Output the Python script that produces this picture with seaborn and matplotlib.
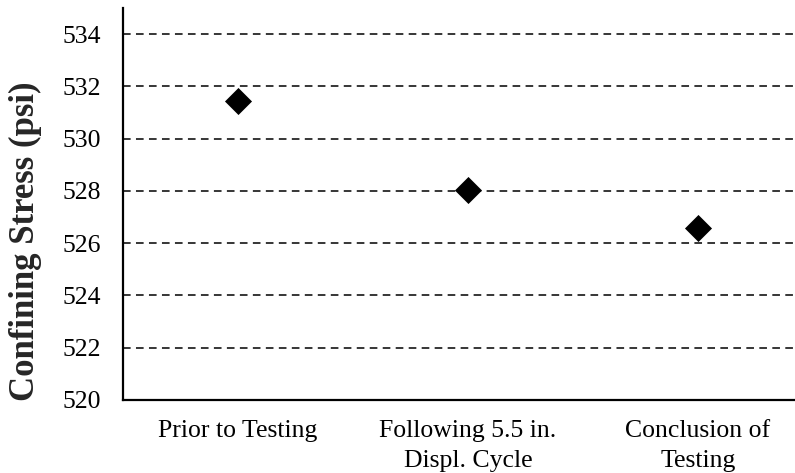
import matplotlib
matplotlib.use("Agg")
import matplotlib.pyplot as plt
import seaborn as sns
import pandas as pd

# data
stages = ["Prior to Testing", "Following 5.5 in.\nDispl. Cycle", "Conclusion of\nTesting"]
stress = [531.45, 528.05, 526.6]
yticks = [520, 522, 524, 526, 528, 530, 532, 534]

df = pd.DataFrame({"stage": stages, "stress": stress})

sns.set_style("white")
plt.rcParams["font.family"] = ["Liberation Serif", "DejaVu Serif"]

fig = plt.figure(figsize=(7.95, 4.73), dpi=100)
ax = fig.add_axes([123 / 795, 1 - 400 / 473, 690 / 795, 392 / 473])

sns.scatterplot(data=df, x="stage", y="stress", marker="D", s=190,
                color="black", linewidth=0, ax=ax, zorder=3)

ax.set_xlim(-0.5, 2.5)
ax.set_ylim(520, 535)
ax.set_yticks(yticks)
ax.set_yticklabels([str(v) for v in yticks])
for v in yticks[1:]:
    ax.axhline(v, color="black", ls=(0, (5, 3.5)), lw=1.1, zorder=1)

ax.tick_params(axis="y", length=0, labelsize=18.5, colors="black", pad=16)
ax.tick_params(axis="x", length=0, labelsize=18.5, colors="black", pad=14.5)
for lab in ax.get_xticklabels():
    lab.set_linespacing(1.45)
ax.set_xlabel("")
ax.set_ylabel("Confining Stress (psi)", fontsize=25, fontweight="bold")
ax.yaxis.set_label_coords(-0.117, 0.405)
for s in ["top", "right"]:
    ax.spines[s].set_visible(False)
for s in ["left", "bottom"]:
    ax.spines[s].set_color("black")
    ax.spines[s].set_linewidth(1.6)

fig.savefig("out.png", dpi=100)
